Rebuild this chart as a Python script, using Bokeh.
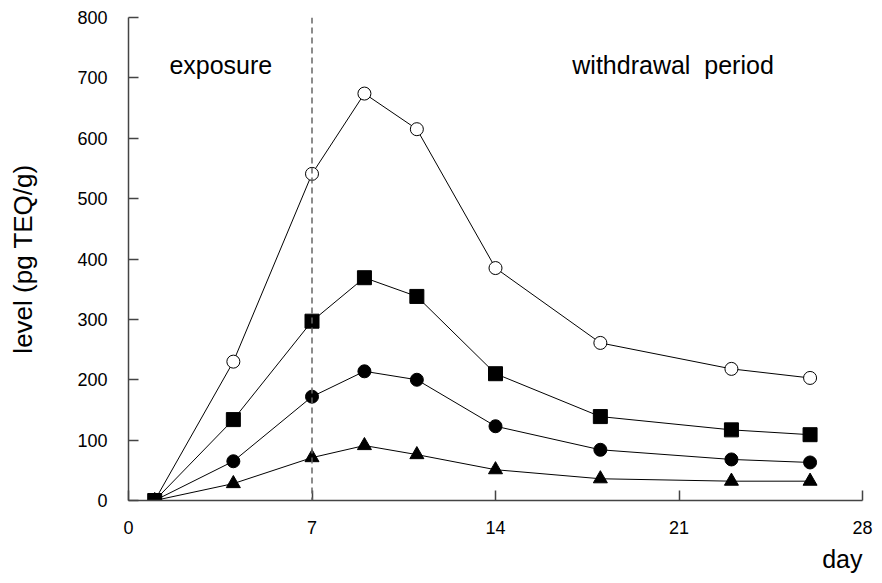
from bokeh.plotting import figure
from bokeh.models import Range1d, Span, Label, FixedTicker, Title
from bokeh.embed import file_html
from bokeh.resources import INLINE

# ---- data ----
days = [1, 4, 7, 9, 11, 14, 18, 23, 26]
open_circle_vals = [0, 230, 541, 674, 615, 385, 261, 218, 203]
square_vals = [0, 134, 297, 369, 338, 210, 139, 117, 109]
filled_circle_vals = [0, 65, 172, 214, 200, 123, 84, 68, 63]
triangle_vals = [0, 28, 71, 91, 76, 51, 36, 32, 32]

exposure_end_day = 7
x_ticks = [0, 7, 14, 21, 28]
y_ticks = [0, 100, 200, 300, 400, 500, 600, 700, 800]

FONT = "Liberation Sans"

p = figure(width=874, height=583, output_backend="svg", toolbar_location=None,
           x_range=Range1d(0, 28), y_range=Range1d(0, 800),
           min_border_left=128, min_border_right=12, min_border_top=17,
           min_border_bottom=83)
p.outline_line_color = None
p.grid.visible = False
p.background_fill_color = "white"
p.border_fill_color = "white"

# axes
for ax in (p.xaxis[0], p.yaxis[0]):
    ax.axis_line_color = "#444444"
    ax.axis_line_width = 1.5
    ax.major_tick_line_color = "#444444"
    ax.major_tick_line_width = 1.5
    ax.major_tick_in = 10
    ax.major_tick_out = 0
    ax.minor_tick_line_color = None
    ax.major_label_text_font = FONT
    ax.major_label_text_font_size = "18px"
    ax.major_label_text_color = "black"
    ax.axis_label_text_font = FONT
    ax.axis_label_text_font_style = "normal"
    ax.axis_label_text_color = "black"

p.xaxis.ticker = FixedTicker(ticks=x_ticks)
p.yaxis.ticker = FixedTicker(ticks=y_ticks)
p.xaxis.major_label_standoff = 20
p.yaxis.major_label_standoff = 21
p.yaxis.axis_label = "level (pg TEQ/g)"
p.yaxis.axis_label_text_font_size = "26px"
p.yaxis.axis_label_standoff = 36

# x-axis name "day", right-aligned under the axis
p.add_layout(Title(text="day", align="right", text_font=FONT,
                   text_font_size="25px", text_font_style="normal",
                   text_color="black", standoff=13, offset=0), "below")

# dashed vertical separator
p.add_layout(Span(location=exposure_end_day, dimension="height",
                  line_color="#666666", line_width=1.5, line_dash="6 4"))

# series
line_kw = dict(line_color="black", line_width=1)
p.line(days, open_circle_vals, **line_kw)
p.line(days, square_vals, **line_kw)
p.line(days, filled_circle_vals, **line_kw)
p.line(days, triangle_vals, **line_kw)

p.scatter(days, open_circle_vals, marker="circle", size=13,
          fill_color="white", line_color="black", line_width=1)
p.scatter(days, triangle_vals, marker="triangle", size=14,
          fill_color="black", line_color="black")
p.scatter(days, filled_circle_vals, marker="circle", size=13,
          fill_color="black", line_color="black")
p.scatter(days, square_vals, marker="square", size=14,
          fill_color="black", line_color="black")

# text annotations
p.add_layout(Label(x=1.56, y=722, text="exposure", text_font=FONT,
                   text_font_size="25px", text_color="black",
                   text_align="left", text_baseline="alphabetic"))
p.add_layout(Label(x=16.93, y=722, text="withdrawal\u00a0 period", text_font=FONT,
                   text_font_size="25px", text_color="black",
                   text_align="left", text_baseline="alphabetic"))

open("out.html", "w").write(file_html(p, INLINE))
